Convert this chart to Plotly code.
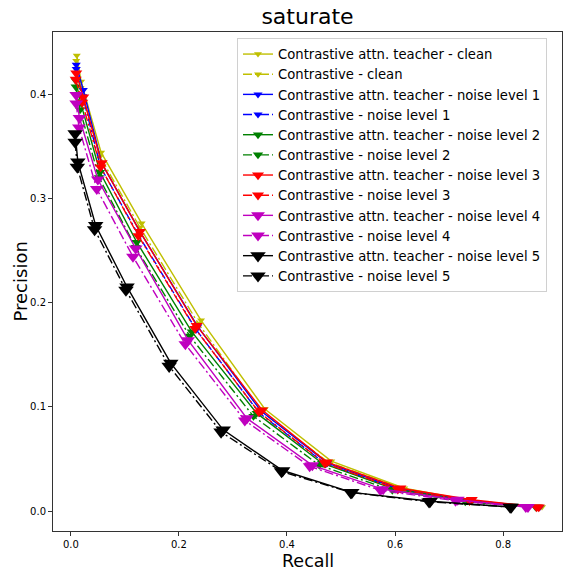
import plotly.graph_objects as go

names = [
    "Contrastive attn. teacher - clean",
    "Contrastive - clean",
    "Contrastive attn. teacher - noise level 1",
    "Contrastive - noise level 1",
    "Contrastive attn. teacher - noise level 2",
    "Contrastive - noise level 2",
    "Contrastive attn. teacher - noise level 3",
    "Contrastive - noise level 3",
    "Contrastive attn. teacher - noise level 4",
    "Contrastive - noise level 4",
    "Contrastive attn. teacher - noise level 5",
    "Contrastive - noise level 5",
]

recall_attn_clean = [0.011, 0.019, 0.056, 0.131, 0.241, 0.359, 0.482, 0.617, 0.742, 0.872]
prec_attn_clean = [0.437, 0.412, 0.344, 0.276, 0.183, 0.098, 0.048, 0.022, 0.010, 0.004]
recall_clean = [0.010, 0.018, 0.054, 0.128, 0.236, 0.352, 0.476, 0.612, 0.738, 0.868]
prec_clean = [0.432, 0.406, 0.340, 0.272, 0.180, 0.096, 0.047, 0.022, 0.010, 0.004]

recall_attn_n1 = [0.010, 0.023, 0.057, 0.128, 0.235, 0.352, 0.475, 0.610, 0.740, 0.868]
prec_attn_n1 = [0.428, 0.404, 0.334, 0.268, 0.177, 0.096, 0.046, 0.021, 0.010, 0.004]
recall_n1 = [0.010, 0.022, 0.055, 0.126, 0.232, 0.349, 0.472, 0.607, 0.737, 0.865]
prec_n1 = [0.424, 0.398, 0.330, 0.264, 0.174, 0.094, 0.045, 0.021, 0.0095, 0.004]

recall_attn_n2 = [0.009, 0.018, 0.054, 0.122, 0.224, 0.344, 0.465, 0.600, 0.735, 0.865]
prec_attn_n2 = [0.413, 0.392, 0.325, 0.258, 0.172, 0.094, 0.046, 0.021, 0.010, 0.004]
recall_n2 = [0.009, 0.017, 0.052, 0.120, 0.220, 0.338, 0.460, 0.595, 0.730, 0.860]
prec_n2 = [0.407, 0.385, 0.320, 0.253, 0.168, 0.091, 0.044, 0.020, 0.009, 0.004]

recall_attn_n3 = [0.010, 0.023, 0.057, 0.128, 0.233, 0.354, 0.474, 0.610, 0.742, 0.866]
prec_attn_n3 = [0.420, 0.397, 0.334, 0.268, 0.178, 0.097, 0.047, 0.022, 0.011, 0.004]
recall_n3 = [0.009, 0.021, 0.055, 0.125, 0.230, 0.348, 0.470, 0.605, 0.738, 0.862]
prec_n3 = [0.414, 0.392, 0.330, 0.264, 0.175, 0.095, 0.046, 0.021, 0.010, 0.004]

recall_attn_n4 = [0.010, 0.016, 0.050, 0.120, 0.217, 0.326, 0.447, 0.578, 0.716, 0.846]
prec_attn_n4 = [0.399, 0.377, 0.318, 0.252, 0.164, 0.089, 0.044, 0.021, 0.011, 0.004]
recall_n4 = [0.010, 0.015, 0.048, 0.115, 0.212, 0.322, 0.442, 0.573, 0.712, 0.842]
prec_n4 = [0.391, 0.368, 0.309, 0.244, 0.160, 0.087, 0.043, 0.020, 0.010, 0.004]

recall_attn_n5 = [0.008, 0.013, 0.046, 0.104, 0.185, 0.282, 0.392, 0.520, 0.665, 0.815]
prec_attn_n5 = [0.362, 0.335, 0.274, 0.215, 0.142, 0.078, 0.039, 0.018, 0.0095, 0.004]
recall_n5 = [0.008, 0.012, 0.044, 0.102, 0.182, 0.278, 0.390, 0.518, 0.663, 0.813]
prec_n5 = [0.354, 0.330, 0.270, 0.212, 0.139, 0.076, 0.038, 0.018, 0.009, 0.004]

recalls = [recall_attn_clean, recall_clean, recall_attn_n1, recall_n1, recall_attn_n2, recall_n2,
           recall_attn_n3, recall_n3, recall_attn_n4, recall_n4, recall_attn_n5, recall_n5]
precs = [prec_attn_clean, prec_clean, prec_attn_n1, prec_n1, prec_attn_n2, prec_n2,
         prec_attn_n3, prec_n3, prec_attn_n4, prec_n4, prec_attn_n5, prec_n5]

colors = ["#bfbf00", "#0000ff", "#008000", "#ff0000", "#bf00bf", "#000000"]
msizes = [7, 8, 9, 10.5, 12, 13.5]

fig = go.Figure()
for i, (nm, rx, py) in enumerate(zip(names, recalls, precs)):
    lvl = i // 2
    dashed = (i % 2 == 1)
    fig.add_trace(go.Scatter(
        x=rx, y=py, name=nm, mode="lines+markers",
        line=dict(color=colors[lvl], width=1.4, dash="9px,3px,2px,3px" if dashed else "solid"),
        marker=dict(symbol="triangle-down", size=msizes[lvl], color=colors[lvl]),
    ))

ticks = [0.0, 0.2, 0.4, 0.6, 0.8]
yticks = [0.0, 0.1, 0.2, 0.3, 0.4]

fig.update_layout(
    width=563, height=571,
    margin=dict(l=53, r=1, t=32, b=40),
    paper_bgcolor="white", plot_bgcolor="white",
    font=dict(family="DejaVu Sans", color="black"),
    title=dict(text="saturate", x=0.5, xref="paper", xanchor="center",
               y=1 - 16 / 571, yref="container", yanchor="middle",
               font=dict(size=22, family="DejaVu Sans", color="black")),
    showlegend=True,
    legend=dict(x=0.3615, y=0.988, xanchor="left", yanchor="top",
                bgcolor="white", bordercolor="#d0d0d0", borderwidth=1,
                font=dict(size=13.2, family="DejaVu Sans", color="black"),
                tracegroupgap=0, itemwidth=30),
    xaxis=dict(range=[-0.033, 0.909], tickvals=ticks, ticktext=[f"{t:.1f}" for t in ticks],
               showgrid=False, zeroline=False, showline=True, mirror=True,
               linecolor="#333333", linewidth=1, ticks="outside", ticklen=4, tickcolor="#333333",
               tickfont=dict(size=10, family="DejaVu Sans")),
    yaxis=dict(range=[-0.019, 0.4595], tickvals=yticks, ticktext=[f"{t:.1f}" for t in yticks],
               showgrid=False, zeroline=False, showline=True, mirror=True,
               linecolor="#333333", linewidth=1, ticks="outside", ticklen=4, tickcolor="#333333",
               tickfont=dict(size=10, family="DejaVu Sans")),
    annotations=[
        dict(text="Recall", xref="paper", yref="paper", x=0.5, y=-0.06,
             xanchor="center", yanchor="middle", showarrow=False, borderpad=0,
             font=dict(size=17.5, family="DejaVu Sans", color="black")),
        dict(text="Precision", xref="paper", yref="paper", x=-0.0648, y=0.5,
             xanchor="center", yanchor="middle", showarrow=False, textangle=-90, borderpad=0,
             font=dict(size=18, family="DejaVu Sans", color="black")),
    ],
)

fig.write_html("out.html")
